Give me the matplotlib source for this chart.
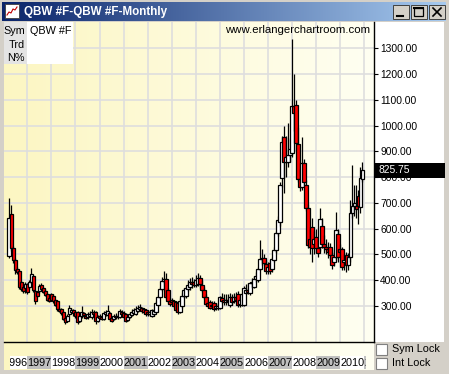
import matplotlib.pyplot as plt
import numpy as np
from matplotlib.colors import LinearSegmentedColormap
from matplotlib.patches import Rectangle

plt.rcParams['font.family'] = ['Liberation Sans', 'DejaVu Sans']

# monthly QBW #F candles, Apr 1996 .. Dec 2010 (one row per year)
opens = [494, 657, 525, 478, 442, 436, 392, 374, 370,
         385, 374, 393, 418, 360, 355, 358, 380, 368, 360, 346, 330,
         346, 339, 322, 319, 290, 288, 277, 253, 240, 269, 278, 285,
         278, 277, 240, 261, 272, 262, 256, 262, 257, 276, 277, 242,
         262, 258, 250, 268, 265, 273, 252, 250, 262, 256, 257, 276,
         272, 269, 245, 258, 265, 272, 269, 281, 288, 292, 288, 285,
         278, 268, 262, 268, 277, 304, 335, 366, 397, 405, 362, 320,
         322, 318, 316, 312, 278, 300, 338, 340, 366, 372, 395, 393,
         381, 385, 408, 381, 362, 335, 312, 316, 300, 312, 292, 294,
         292, 332, 322, 315, 325, 305, 335, 318, 335, 347, 306, 304,
         304, 350, 362, 350, 389, 374, 405, 401, 443, 482, 486, 463,
         436, 467, 443, 478, 517, 583, 626, 796, 955, 858, 858, 885,
         893, 1075, 1079, 928, 792, 761, 854, 769, 680, 560, 606, 540,
         567, 525, 529, 610, 540, 530, 520, 529, 498, 470, 490, 580,
         521, 521, 470, 498, 459, 490, 660, 688, 688, 726, 684, 792]
highs = [720, 690, 532, 485, 452, 440, 398, 384, 392,
         390, 400, 447, 422, 364, 360, 384, 388, 372, 366, 350, 340,
         352, 345, 328, 322, 296, 292, 282, 258, 268, 304, 294, 290,
         282, 282, 270, 300, 278, 270, 275, 282, 290, 284, 282, 266,
         268, 265, 280, 285, 304, 278, 258, 270, 272, 270, 290, 285,
         280, 274, 265, 278, 290, 294, 300, 302, 306, 298, 294, 290,
         285, 285, 290, 290, 318, 342, 372, 412, 436, 428, 370, 330,
         330, 325, 320, 318, 330, 350, 370, 375, 400, 410, 412, 405,
         420, 428, 420, 400, 372, 345, 325, 325, 318, 320, 310, 312,
         340, 350, 345, 345, 345, 350, 345, 350, 355, 360, 335, 352,
         378, 385, 390, 395, 410, 415, 430, 450, 556, 520, 500, 480,
         470, 478, 492, 530, 590, 650, 780, 960, 1000, 960, 1009, 950,
         1335, 1200, 1100, 994, 830, 955, 870, 790, 695, 600, 640, 590,
         600, 560, 680, 640, 575, 560, 550, 545, 510, 520, 665, 600,
         540, 530, 500, 510, 505, 710, 847, 770, 770, 750, 839, 858]
lows = [488, 515, 466, 425, 426, 365, 358, 352, 350,
        348, 366, 388, 355, 308, 335, 352, 360, 350, 338, 318, 314,
        318, 312, 300, 282, 276, 266, 244, 230, 236, 262, 272, 262,
        255, 232, 236, 255, 256, 248, 250, 256, 250, 262, 232, 236,
        248, 244, 245, 262, 260, 240, 236, 245, 250, 248, 252, 262,
        252, 236, 240, 252, 260, 268, 264, 276, 280, 272, 268, 262,
        262, 260, 258, 262, 272, 300, 330, 360, 388, 328, 312, 300,
        305, 292, 278, 270, 272, 294, 330, 332, 360, 362, 370, 372,
        375, 378, 370, 355, 328, 300, 292, 288, 290, 282, 285, 286,
        288, 312, 305, 305, 310, 298, 305, 310, 318, 298, 298, 300,
        300, 345, 345, 342, 370, 368, 395, 395, 438, 460, 460, 425,
        425, 425, 430, 470, 505, 570, 610, 760, 738, 800, 840, 860,
        880, 980, 900, 780, 745, 750, 770, 670, 525, 500, 470, 500,
        505, 490, 515, 525, 505, 500, 485, 480, 445, 455, 480, 470,
        490, 440, 440, 430, 440, 470, 640, 650, 640, 620, 660, 780]
closes = [641, 525, 478, 440, 432, 372, 366, 358, 386,
          354, 393, 424, 362, 320, 340, 377, 366, 356, 343, 323, 320,
          323, 319, 305, 288, 282, 273, 250, 238, 262, 292, 285, 272,
          262, 238, 262, 277, 264, 254, 268, 270, 277, 268, 240, 258,
          254, 250, 273, 276, 281, 248, 242, 262, 258, 262, 281, 268,
          258, 242, 258, 270, 278, 285, 288, 292, 296, 280, 275, 270,
          268, 275, 285, 282, 312, 335, 366, 397, 405, 335, 320, 308,
          316, 300, 285, 278, 320, 340, 362, 368, 380, 393, 385, 380,
          400, 408, 385, 362, 335, 308, 300, 292, 305, 288, 300, 300,
          335, 320, 315, 325, 318, 335, 315, 335, 325, 304, 322, 345,
          370, 362, 355, 389, 395, 405, 415, 443, 482, 486, 467, 436,
          452, 436, 482, 517, 583, 633, 769, 936, 858, 880, 885, 910,
          1075, 1050, 932, 792, 761, 854, 781, 680, 536, 530, 525, 560,
          525, 505, 637, 540, 530, 520, 510, 498, 459, 490, 594, 490,
          510, 451, 480, 459, 490, 660, 688, 700, 675, 688, 796, 825.75]

years = list(range(1996, 2012))
first_jan = 9          # candle index of Jan 1997
price_ticks = list(range(300, 1400, 100))
last_price = closes[-1]

W, H = 449, 374


def px(x, y, w, h):
    return [x / W, 1 - (y + h) / H, w / W, h / H]


fig = plt.figure(figsize=(W / 100, H / 100), dpi=100, facecolor='#d4d0c8')

# window chrome in pixel coordinates
ch = fig.add_axes([0, 0, 1, 1], zorder=0)
ch.axis('off')
grad = np.linspace(0, 1, 256)[None, :]
title_cm = LinearSegmentedColormap.from_list('tb', ['#0a246a', '#a6caf0'])
ch.imshow(grad, cmap=title_cm, aspect='auto', extent=(2, 446, 21, 2))
bg_cm = LinearSegmentedColormap.from_list('bg', ['#fcf6c2', '#fffff2'])
ch.imshow(grad, cmap=bg_cm, aspect='auto', extent=(4, 374, 370, 22))
ch.add_patch(Rectangle((375, 22), 69, 320, facecolor='white', edgecolor='none'))
ch.add_patch(Rectangle((374, 342), 70, 28, facecolor='#d4d0c8', edgecolor='none'))

# title bar icon, text and buttons
ch.add_patch(Rectangle((5, 4), 14, 14, facecolor='white', edgecolor='#404040', lw=0.6))
ch.plot([7, 9, 11, 13, 15, 17], [15, 12, 13, 9, 10, 7], color='#c00000', lw=0.8)
ch.text(24, 12, 'QBW #F-QBW #F-Monthly', color='white', fontsize=8.4,
        fontweight='bold', va='center', ha='left')
for bx in (393, 411, 429):
    ch.add_patch(Rectangle((bx, 5), 16, 14, facecolor='#d4d0c8', edgecolor='#404040', lw=0.7))
ch.plot([397, 403], [15.5, 15.5], color='black', lw=1.5)
ch.add_patch(Rectangle((414, 7.5), 9, 8.5, facecolor='none', edgecolor='black', lw=0.9))
ch.plot([414, 423], [8, 8], color='black', lw=1.5)
ch.plot([433, 441], [8, 16], color='black', lw=1.2)
ch.plot([433, 441], [16, 8], color='black', lw=1.2)
ch.set_xlim(0, W)
ch.set_ylim(H, 0)

# price chart
x0, dx = 9.3, 2.006
ax = fig.add_axes(px(4, 22, 370, 320), zorder=1)
ax.patch.set_alpha(0)
ax.set_xlim((4 - x0) / dx, (374 - x0) / dx)
ax.set_ylim(300 - 36 * 3.88, 300 + 284 * 3.88)

for p in price_ticks:
    ax.axhline(p, color='#dedede', lw=1.2, zorder=1)
for k in range(len(years) - 1):
    ax.axvline(first_jan + 12 * k, color='#dedede', lw=1.2, zorder=1)

for i, (o, h, l, c) in enumerate(zip(opens, highs, lows, closes)):
    ax.vlines(i, l, h, color='black', lw=0.9, zorder=3)
    ax.add_patch(Rectangle((i - 0.9, min(o, c)), 1.8, max(abs(c - o), 0.5),
                           facecolor='#ff0000' if c < o else 'white',
                           edgecolor='black', lw=0.9, zorder=3))

for side in ('left', 'top'):
    ax.spines[side].set_visible(False)
for side in ('right', 'bottom'):
    ax.spines[side].set_linewidth(1.0)
ax.set_xticks([])
ax.yaxis.tick_right()
ax.set_yticks(price_ticks, [f'{p:.2f}' for p in price_ticks])
ax.tick_params(axis='y', length=3, width=0.8, pad=1.5, labelsize=7.4)

ax.add_patch(Rectangle((1.003, last_price - 29), 0.19, 58, transform=ax.get_yaxis_transform(),
                       clip_on=False, facecolor='black', edgecolor='none', zorder=5))
ax.text(1.012, last_price, f'{last_price:.2f}', transform=ax.get_yaxis_transform(),
        color='white', fontsize=7.4, va='center', ha='left', zorder=6)
ax.text(0.989, 0.975, 'www.erlangerchartroom.com', transform=ax.transAxes,
        ha='right', va='center', fontsize=8.2, zorder=6)

# overlay: symbol table and lock checkboxes
ov = fig.add_axes([0, 0, 1, 1], zorder=2)
ov.axis('off')
ov.set_xlim(0, W)
ov.set_ylim(H, 0)
ov.add_patch(Rectangle((4, 22), 23, 42, facecolor='#e4e4e4', edgecolor='none'))
ov.add_patch(Rectangle((27, 22), 46, 42, facecolor='white', edgecolor='none'))
for label, yy in (('Sym', 30.5), ('Trd', 44.5), ('N%', 58)):
    ov.text(25, yy, label, ha='right', va='center', fontsize=7.8)
ov.text(30, 30.5, 'QBW #F', ha='left', va='center', fontsize=7.8)
for label, yy in (('Sym Lock', 344), ('Int Lock', 358)):
    ov.add_patch(Rectangle((376, yy), 11, 11, facecolor='white', edgecolor='#808080', lw=0.8))
    ov.text(392, yy + 5.5, label, ha='left', va='center', fontsize=7.8)

# year labels under the chart
lab = fig.add_axes(px(9.5, 356, 357, 13), zorder=2)
lab.axis('off')
lab.set_xlim((9.5 - x0) / dx, (366.5 - x0) / dx)
lab.set_ylim(0, 1)
for k, yr in enumerate(years):
    start = first_jan + 12 * (k - 1)
    lab.add_patch(Rectangle((start, 0), 12, 1, facecolor='#c0c0c0' if yr % 2 else 'white',
                            edgecolor='none'))
    lab.text(start, 0.5, str(yr), ha='left', va='center', fontsize=7.8, clip_on=True)

fig.savefig('out.png', dpi=100, facecolor=fig.get_facecolor())
